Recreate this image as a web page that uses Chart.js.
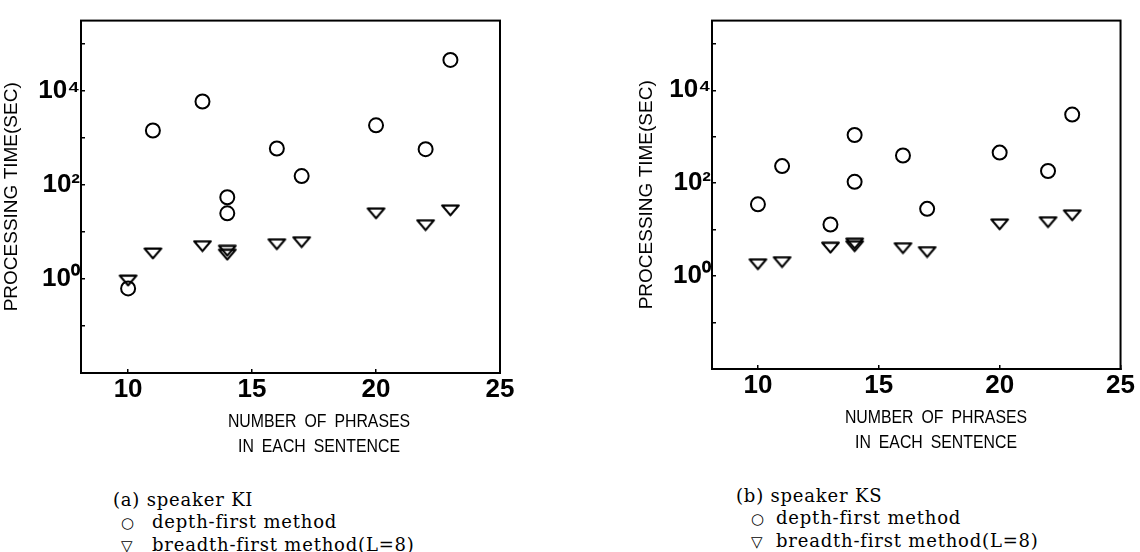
<!DOCTYPE html>
<html>
<head>
<meta charset="utf-8">
<script src="https://cdn.jsdelivr.net/npm/chart.js@4.4.0/dist/chart.umd.min.js"></script>
<style>
  body { margin: 0; background: #fff; }
  #wrap { position: relative; width: 1140px; height: 552px; overflow: hidden; background: #fff; }
  canvas { position: absolute; top: 0; }
  #chartA { left: 0; }
  #chartB { left: 570px; }
  .xtitle {
    position: absolute; width: 300px; text-align: center;
    font: 18px 'Liberation Sans', Arial, sans-serif; line-height: 25px;
    word-spacing: 4px; color: #000;
    transform: scaleX(0.88); transform-origin: 150px 0;
  }
  .caption {
    position: absolute; font: 18px 'DejaVu Serif', 'Liberation Serif', serif;
    line-height: 21.5px; letter-spacing: 0.8px; color: #000; white-space: nowrap;
  }
  .caption .sym {
    display: inline-block; box-sizing: border-box; width: 39px; padding-left: 8px;
    font-family: 'DejaVu Sans', sans-serif; font-size: 15px; letter-spacing: 0;
  }
  #capB .sym { width: 40px; padding-left: 15px; }
</style>
</head>
<body>
<div id="wrap">
  <canvas id="chartA" width="570" height="410"></canvas>
  <canvas id="chartB" width="570" height="410"></canvas>

  <div class="xtitle" style="left:169px; top:409px">NUMBER OF PHRASES<br>IN EACH SENTENCE</div>
  <div class="xtitle" style="left:786px; top:405px">NUMBER OF PHRASES<br>IN EACH SENTENCE</div>

  <div class="caption" id="capA" style="left:113px; top:489px">
    (a) speaker KI<br>
    <span class="sym">○</span>depth-first method<br>
    <span class="sym">▽</span>breadth-first method(L=8)
  </div>
  <div class="caption" id="capB" style="left:736px; top:485px">
    (b) speaker KS<br>
    <span class="sym">○</span>depth-first method<br>
    <span class="sym">▽</span>breadth-first method(L=8)
  </div>
</div>

<script>
// Dados
const phrases = [10, 11, 13, 14, 14, 16, 17, 20, 22, 23];

// (a) speaker KI
const depthKI = [0.63, 1450, 6000, 55, 25, 600, 155, 1870, 580, 46000];
const breadthKI = [0.93, 3.5, 5.0, 4.0, 3.3, 5.5, 6.1, 25, 14, 29];

// (b) speaker KS
const depthKS = [35, 233, 12.9, 1090, 107, 395, 28, 455, 183, 3000];
const breadthKS = [1.8, 2.0, 4.1, 5.0, 4.4, 4.0, 3.3, 13, 14.5, 20.4];

// Eixos
const xTickValues = [10, 15, 20, 25];
const yTickValues = [0.1, 1, 10, 100, 1000, 10000, 100000];
const yTickLabels = ['', '10⁰', '', '10²', '', '10⁴', ''];

const xMin = 8.1, xMax = 25;
const yMin = 0.01, yMax = Math.pow(10, 5.5);

// Triângulo invertido (marcador)
const makeTriangle = (w, h, lw) => {
  const c = document.createElement('canvas');
  c.width = w; c.height = h;
  const g = c.getContext('2d');
  g.strokeStyle = '#000';
  g.lineWidth = lw;
  g.lineJoin = 'round';
  g.beginPath();
  g.moveTo(lw, lw / 2 + 0.5);
  g.lineTo(w - lw, lw / 2 + 0.5);
  g.lineTo(w / 2, h - lw / 2 - 0.5);
  g.closePath();
  g.stroke();
  return c;
};
const triangleMark = makeTriangle(21, 13, 2.2);

// Moldura em volta da área do gráfico
const framePlugin = {
  id: 'frame',
  afterDraw(chart) {
    const { ctx, chartArea: a } = chart;
    ctx.save();
    ctx.strokeStyle = '#000';
    ctx.lineWidth = 2;
    ctx.strokeRect(a.left, a.top, a.right - a.left, a.bottom - a.top);
    ctx.restore();
  }
};

const toPoints = (ys) => ys.map((y, i) => ({ x: phrases[i], y }));

const tickFont = { family: "'Liberation Sans', Arial, sans-serif", size: 26, weight: 'bold' };

const makeChart = (id, depth, breadth, geo) => new Chart(document.getElementById(id), {
  type: 'scatter',
  data: {
    datasets: [
      {
        label: 'depth-first method',
        data: toPoints(depth),
        pointStyle: 'circle',
        pointRadius: 7,
        borderColor: '#000',
        backgroundColor: 'rgba(0,0,0,0)',
        borderWidth: 2,
      },
      {
        label: 'breadth-first method(L=8)',
        data: toPoints(breadth),
        pointStyle: triangleMark,
        pointRadius: 8,
        borderColor: '#000',
        backgroundColor: 'rgba(0,0,0,0)',
      }
    ]
  },
  options: {
    responsive: false,
    animation: false,
    devicePixelRatio: 1,
    layout: { padding: { top: geo.top, right: geo.right, left: 0, bottom: 0 } },
    plugins: { legend: { display: false }, tooltip: { enabled: false } },
    scales: {
      x: {
        type: 'linear',
        min: xMin,
        max: xMax,
        afterBuildTicks: (s) => { s.ticks = xTickValues.map(v => ({ value: v })); },
        afterFit: (s) => { s.height = geo.xHeight; },
        ticks: { color: '#000', font: tickFont, padding: 5, autoSkip: false, maxRotation: 0 },
        grid: { drawOnChartArea: false, tickLength: -4, color: '#000', lineWidth: 1.5 },
        border: { color: '#000', width: 2 },
      },
      y: {
        type: 'logarithmic',
        min: yMin,
        max: yMax,
        afterBuildTicks: (s) => { s.ticks = yTickValues.map(v => ({ value: v })); },
        afterFit: (s) => { s.width = geo.yWidth; },
        ticks: {
          color: '#000', font: tickFont, padding: 5, autoSkip: false,
          callback: (v, i) => yTickLabels[i],
        },
        grid: { drawOnChartArea: false, tickLength: -4, color: '#000', lineWidth: 1.5 },
        border: { color: '#000', width: 2 },
        title: {
          display: true,
          text: 'PROCESSING TIME(SEC)',
          color: '#000',
          font: { family: "'Liberation Sans', Arial, sans-serif", size: 19 },
          padding: { top: geo.titlePad, bottom: 0 },
        },
      }
    }
  },
  plugins: [framePlugin]
});

makeChart('chartA', depthKI, breadthKI, { top: 14, right: 70, xHeight: 37, yWidth: 81, titlePad: 0 });
makeChart('chartB', depthKS, breadthKS, { top: 12, right: 14, xHeight: 41, yWidth: 142, titlePad: 65 });
</script>
</body>
</html>
